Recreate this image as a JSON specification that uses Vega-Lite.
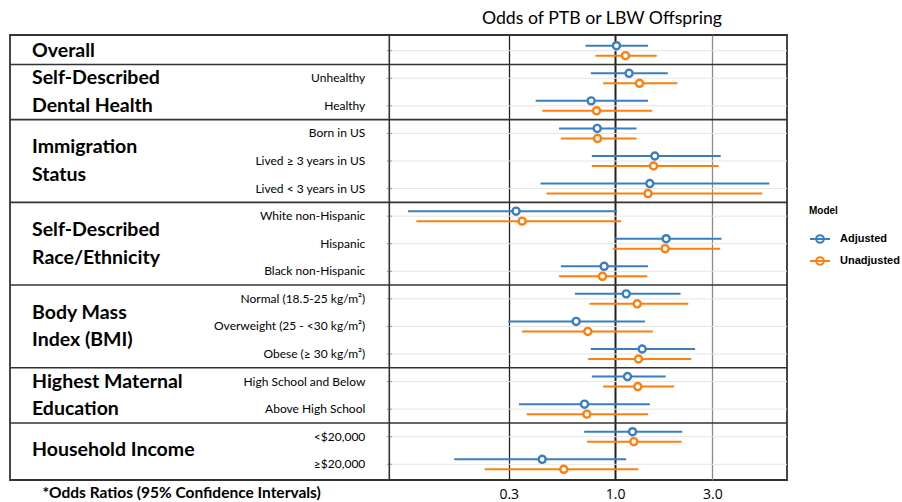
{
  "$schema": "https://vega.github.io/schema/vega-lite/v6.json",
  "width": 777,
  "height": 445,
  "autosize": {"type": "none"},
  "padding": {"left": 10, "top": 35, "right": 115, "bottom": 22},
  "background": "white",
  "title": {"text": "Odds of PTB or LBW Offspring", "anchor": "end", "frame": "group", "dx": -65, "offset": 7, "font": "Lato", "fontSize": 17.7, "fontWeight": "normal", "color": "#000"},
  "config": {"view": {"stroke": "#333", "strokeWidth": 1.8}, "font": "Lato"},
  "datasets": {
    "rows": [
      {"item": "Overall", "label": ""},
      {"item": "Unhealthy", "label": "Unhealthy"},
      {"item": "Healthy", "label": "Healthy"},
      {"item": "Born in US", "label": "Born in US"},
      {"item": "Lived ≥ 3 years in US", "label": "Lived ≥ 3 years in US"},
      {"item": "Lived < 3 years in US", "label": "Lived < 3 years in US"},
      {"item": "White non-Hispanic", "label": "White non-Hispanic"},
      {"item": "Hispanic", "label": "Hispanic"},
      {"item": "Black non-Hispanic", "label": "Black non-Hispanic"},
      {"item": "Normal (18.5-25 kg/m²)", "label": "Normal (18.5-25 kg/m²)"},
      {"item": "Overweight (25 - <30 kg/m²)", "label": "Overweight (25 - <30 kg/m²)"},
      {"item": "Obese (≥ 30 kg/m²)", "label": "Obese (≥ 30 kg/m²)"},
      {"item": "High School and Below", "label": "High School and Below"},
      {"item": "Above High School", "label": "Above High School"},
      {"item": "<$20,000", "label": "<$20,000"},
      {"item": "≥$20,000", "label": "≥$20,000"}
    ],
    "seps": [
      {"item": "Overall"},
      {"item": "Healthy"},
      {"item": "Lived < 3 years in US"},
      {"item": "Black non-Hispanic"},
      {"item": "Obese (≥ 30 kg/m²)"},
      {"item": "Above High School"}
    ],
    "groups": [
      {"text": "Overall", "item": "Overall", "pos": "mid"},
      {"text": "Self-Described", "item": "Unhealthy", "pos": "mid"},
      {"text": "Dental Health", "item": "Healthy", "pos": "mid"},
      {"text": "Immigration", "item": "Born in US", "pos": "edge"},
      {"text": "Status", "item": "Lived ≥ 3 years in US", "pos": "edge"},
      {"text": "Self-Described", "item": "White non-Hispanic", "pos": "edge"},
      {"text": "Race/Ethnicity", "item": "Hispanic", "pos": "edge"},
      {"text": "Body Mass", "item": "Normal (18.5-25 kg/m²)", "pos": "edge"},
      {"text": "Index (BMI)", "item": "Overweight (25 - <30 kg/m²)", "pos": "edge"},
      {"text": "Highest Maternal", "item": "High School and Below", "pos": "mid"},
      {"text": "Education", "item": "Above High School", "pos": "mid"},
      {"text": "Household Income", "item": "<$20,000", "pos": "edge"}
    ],
    "est": [
      {"item": "Overall", "Model": "Adjusted", "OR": 1.015, "lo": 0.715, "hi": 1.45},
      {"item": "Overall", "Model": "Unadjusted", "OR": 1.124, "lo": 0.80, "hi": 1.60},
      {"item": "Unhealthy", "Model": "Adjusted", "OR": 1.17, "lo": 0.759, "hi": 1.815},
      {"item": "Unhealthy", "Model": "Unadjusted", "OR": 1.317, "lo": 0.873, "hi": 2.02},
      {"item": "Healthy", "Model": "Adjusted", "OR": 0.762, "lo": 0.407, "hi": 1.45},
      {"item": "Healthy", "Model": "Unadjusted", "OR": 0.81, "lo": 0.439, "hi": 1.52},
      {"item": "Born in US", "Model": "Adjusted", "OR": 0.816, "lo": 0.530, "hi": 1.273},
      {"item": "Born in US", "Model": "Unadjusted", "OR": 0.819, "lo": 0.541, "hi": 1.273},
      {"item": "Lived ≥ 3 years in US", "Model": "Adjusted", "OR": 1.566, "lo": 0.768, "hi": 3.30},
      {"item": "Lived ≥ 3 years in US", "Model": "Unadjusted", "OR": 1.543, "lo": 0.768, "hi": 3.22},
      {"item": "Lived < 3 years in US", "Model": "Adjusted", "OR": 1.48, "lo": 0.430, "hi": 5.72},
      {"item": "Lived < 3 years in US", "Model": "Unadjusted", "OR": 1.45, "lo": 0.46, "hi": 5.28},
      {"item": "White non-Hispanic", "Model": "Adjusted", "OR": 0.326, "lo": 0.096, "hi": 1.019},
      {"item": "White non-Hispanic", "Model": "Unadjusted", "OR": 0.349, "lo": 0.1055, "hi": 1.07},
      {"item": "Hispanic", "Model": "Adjusted", "OR": 1.78, "lo": 1.0, "hi": 3.33},
      {"item": "Hispanic", "Model": "Unadjusted", "OR": 1.76, "lo": 0.978, "hi": 3.28},
      {"item": "Black non-Hispanic", "Model": "Adjusted", "OR": 0.883, "lo": 0.541, "hi": 1.45},
      {"item": "Black non-Hispanic", "Model": "Unadjusted", "OR": 0.866, "lo": 0.530, "hi": 1.436},
      {"item": "Normal (18.5-25 kg/m²)", "Model": "Adjusted", "OR": 1.133, "lo": 0.634, "hi": 2.095},
      {"item": "Normal (18.5-25 kg/m²)", "Model": "Unadjusted", "OR": 1.283, "lo": 0.748, "hi": 2.285},
      {"item": "Overweight (25 - <30 kg/m²)", "Model": "Adjusted", "OR": 0.643, "lo": 0.299, "hi": 1.40},
      {"item": "Overweight (25 - <30 kg/m²)", "Model": "Unadjusted", "OR": 0.734, "lo": 0.349, "hi": 1.53},
      {"item": "Obese (≥ 30 kg/m²)", "Model": "Adjusted", "OR": 1.357, "lo": 0.759, "hi": 2.47},
      {"item": "Obese (≥ 30 kg/m²)", "Model": "Unadjusted", "OR": 1.302, "lo": 0.737, "hi": 2.365},
      {"item": "High School and Below", "Model": "Adjusted", "OR": 1.15, "lo": 0.768, "hi": 1.77},
      {"item": "High School and Below", "Model": "Unadjusted", "OR": 1.292, "lo": 0.873, "hi": 1.95},
      {"item": "Above High School", "Model": "Adjusted", "OR": 0.707, "lo": 0.337, "hi": 1.48},
      {"item": "Above High School", "Model": "Unadjusted", "OR": 0.726, "lo": 0.368, "hi": 1.45},
      {"item": "<$20,000", "Model": "Adjusted", "OR": 1.217, "lo": 0.704, "hi": 2.135},
      {"item": "<$20,000", "Model": "Unadjusted", "OR": 1.235, "lo": 0.728, "hi": 2.12},
      {"item": "≥$20,000", "Model": "Adjusted", "OR": 0.438, "lo": 0.162, "hi": 1.133},
      {"item": "≥$20,000", "Model": "Unadjusted", "OR": 0.559, "lo": 0.229, "hi": 1.298}
    ]
  },
  "layer": [
    {
      "data": {"name": "rows"},
      "mark": {"type": "rule", "color": "#e6e6e6", "strokeWidth": 1},
      "encoding": {
        "y": {"field": "item", "type": "nominal", "axis": null, "scale": {"domain": ["Overall","Unhealthy","Healthy","Born in US","Lived ≥ 3 years in US","Lived < 3 years in US","White non-Hispanic","Hispanic","Black non-Hispanic","Normal (18.5-25 kg/m²)","Overweight (25 - <30 kg/m²)","Obese (≥ 30 kg/m²)","High School and Below","Above High School","<$20,000","≥$20,000"], "paddingInner": 0, "paddingOuter": 0.07}},
        "x": {"datum": 0.0777, "type": "quantitative"},
        "x2": {"datum": 6.985}
      }
    },
    {
      "data": {"name": "seps"},
      "mark": {"type": "rule", "color": "#333", "strokeWidth": 1.6},
      "encoding": {
        "y": {"field": "item", "type": "nominal", "bandPosition": 1, "axis": null, "scale": {"domain": ["Overall","Unhealthy","Healthy","Born in US","Lived ≥ 3 years in US","Lived < 3 years in US","White non-Hispanic","Hispanic","Black non-Hispanic","Normal (18.5-25 kg/m²)","Overweight (25 - <30 kg/m²)","Obese (≥ 30 kg/m²)","High School and Below","Above High School","<$20,000","≥$20,000"], "paddingInner": 0, "paddingOuter": 0.07}}
      }
    },
    {
      "data": {"values": [{}]},
      "mark": {"type": "rule", "color": "#333", "strokeWidth": 1.6},
      "encoding": {
        "x": {"datum": 0.0777, "type": "quantitative"}
      }
    },
    {
      "data": {"name": "rows"},
      "mark": {"type": "tick", "orient": "horizontal", "size": 5, "thickness": 1, "color": "#666"},
      "encoding": {
        "y": {"field": "item", "type": "nominal", "axis": null, "scale": {"domain": ["Overall","Unhealthy","Healthy","Born in US","Lived ≥ 3 years in US","Lived < 3 years in US","White non-Hispanic","Hispanic","Black non-Hispanic","Normal (18.5-25 kg/m²)","Overweight (25 - <30 kg/m²)","Obese (≥ 30 kg/m²)","High School and Below","Above High School","<$20,000","≥$20,000"], "paddingInner": 0, "paddingOuter": 0.07}},
        "x": {"datum": 0.0777, "type": "quantitative"}
      }
    },
    {
      "data": {"name": "rows"},
      "mark": {"type": "text", "align": "right", "baseline": "middle", "dx": -24, "font": "Lato", "fontSize": 12, "color": "#000"},
      "encoding": {
        "y": {"field": "item", "type": "nominal", "axis": null, "scale": {"domain": ["Overall","Unhealthy","Healthy","Born in US","Lived ≥ 3 years in US","Lived < 3 years in US","White non-Hispanic","Hispanic","Black non-Hispanic","Normal (18.5-25 kg/m²)","Overweight (25 - <30 kg/m²)","Obese (≥ 30 kg/m²)","High School and Below","Above High School","<$20,000","≥$20,000"], "paddingInner": 0, "paddingOuter": 0.07}},
        "x": {"datum": 0.0777, "type": "quantitative"},
        "text": {"field": "label"}
      }
    },
    {
      "data": {"name": "groups"},
      "transform": [{"filter": "datum.pos == 'mid'"}],
      "mark": {"type": "text", "align": "left", "baseline": "middle", "dx": 22, "font": "Lato", "fontSize": 19.5, "fontWeight": "bold", "color": "#000"},
      "encoding": {
        "y": {"field": "item", "type": "nominal", "axis": null, "scale": {"domain": ["Overall","Unhealthy","Healthy","Born in US","Lived ≥ 3 years in US","Lived < 3 years in US","White non-Hispanic","Hispanic","Black non-Hispanic","Normal (18.5-25 kg/m²)","Overweight (25 - <30 kg/m²)","Obese (≥ 30 kg/m²)","High School and Below","Above High School","<$20,000","≥$20,000"], "paddingInner": 0, "paddingOuter": 0.07}},
        "x": {"datum": 0.001064, "type": "quantitative"},
        "text": {"field": "text"}
      }
    },
    {
      "data": {"name": "groups"},
      "transform": [{"filter": "datum.pos == 'edge'"}],
      "mark": {"type": "text", "align": "left", "baseline": "middle", "dx": 22, "font": "Lato", "fontSize": 19.5, "fontWeight": "bold", "color": "#000"},
      "encoding": {
        "y": {"field": "item", "type": "nominal", "bandPosition": 1, "axis": null, "scale": {"domain": ["Overall","Unhealthy","Healthy","Born in US","Lived ≥ 3 years in US","Lived < 3 years in US","White non-Hispanic","Hispanic","Black non-Hispanic","Normal (18.5-25 kg/m²)","Overweight (25 - <30 kg/m²)","Obese (≥ 30 kg/m²)","High School and Below","Above High School","<$20,000","≥$20,000"], "paddingInner": 0, "paddingOuter": 0.07}},
        "x": {"datum": 0.001064, "type": "quantitative"},
        "text": {"field": "text"}
      }
    },
    {
      "data": {"name": "est"},
      "mark": {"type": "rule", "strokeWidth": 2},
      "encoding": {
        "y": {"field": "item", "type": "nominal", "axis": null, "scale": {"domain": ["Overall","Unhealthy","Healthy","Born in US","Lived ≥ 3 years in US","Lived < 3 years in US","White non-Hispanic","Hispanic","Black non-Hispanic","Normal (18.5-25 kg/m²)","Overweight (25 - <30 kg/m²)","Obese (≥ 30 kg/m²)","High School and Below","Above High School","<$20,000","≥$20,000"], "paddingInner": 0, "paddingOuter": 0.07}},
        "yOffset": {"field": "Model", "type": "nominal", "scale": {"domain": ["Adjusted", "Unadjusted"], "paddingInner": 0, "paddingOuter": 0.38}},
        "x": {"field": "lo", "type": "quantitative"},
        "x2": {"field": "hi"},
        "color": {"field": "Model", "type": "nominal", "scale": {"domain": ["Adjusted", "Unadjusted"], "range": ["#3b7ebf", "#ff7f0e"]}}
      }
    },
    {
      "data": {"name": "est"},
      "mark": {"type": "point", "shape": "circle", "filled": false, "fill": "white", "size": 50, "strokeWidth": 2.4, "opacity": 1},
      "encoding": {
        "y": {"field": "item", "type": "nominal", "axis": null, "scale": {"domain": ["Overall","Unhealthy","Healthy","Born in US","Lived ≥ 3 years in US","Lived < 3 years in US","White non-Hispanic","Hispanic","Black non-Hispanic","Normal (18.5-25 kg/m²)","Overweight (25 - <30 kg/m²)","Obese (≥ 30 kg/m²)","High School and Below","Above High School","<$20,000","≥$20,000"], "paddingInner": 0, "paddingOuter": 0.07}},
        "yOffset": {"field": "Model", "type": "nominal", "scale": {"domain": ["Adjusted", "Unadjusted"], "paddingInner": 0, "paddingOuter": 0.38}},
        "x": {
          "field": "OR", "type": "quantitative",
          "scale": {"type": "log", "domain": [0.001064, 6.985], "nice": false},
          "axis": {
            "values": [0.3, 1, 3], "format": ".1f", "orient": "bottom", "domain": false, "ticks": false,
            "labelPadding": 7, "labelFont": "Open Sans", "labelFontSize": 14, "labelColor": "#000",
            "grid": true,
            "gridColor": {"condition": {"test": "datum.value == 3", "value": "#8a8a8a"}, "value": "#222"},
            "gridWidth": {"condition": {"test": "datum.value == 1", "value": 2}, "value": 1.3},
            "title": "*Odds Ratios (95% Confidence Intervals)",
            "titleFont": "Lato", "titleFontSize": 15.5, "titleFontWeight": "bold", "titleColor": "#000",
            "titleX": 32, "titleY": 5, "titleAlign": "left", "titleBaseline": "top"
          }
        },
        "color": {
          "field": "Model", "type": "nominal",
          "scale": {"domain": ["Adjusted", "Unadjusted"], "range": ["#3b7ebf", "#ff7f0e"]},
          "legend": {
            "orient": "none", "legendX": 799, "legendY": 171, "padding": 0,
            "title": "Model", "titleFont": "Liberation Sans", "titleFontSize": 10, "titleFontWeight": "bold", "titleColor": "#000", "titlePadding": 12,
            "labelFont": "Liberation Sans", "labelFontSize": 11, "labelFontWeight": "bold", "labelColor": "#000", "labelOffset": 9,
            "symbolType": "M-1,0H1M0.38,0A0.38,0.38,0,1,1,-0.38,0A0.38,0.38,0,1,1,0.38,0Z",
            "symbolSize": 400, "symbolStrokeWidth": 2, "rowPadding": 3,
            "encode": {"symbols": {"update": {"fill": {"field": "value", "scale": "color"}, "stroke": {"field": "value", "scale": "color"}}}}
          }
        }
      }
    }
  ]
}
